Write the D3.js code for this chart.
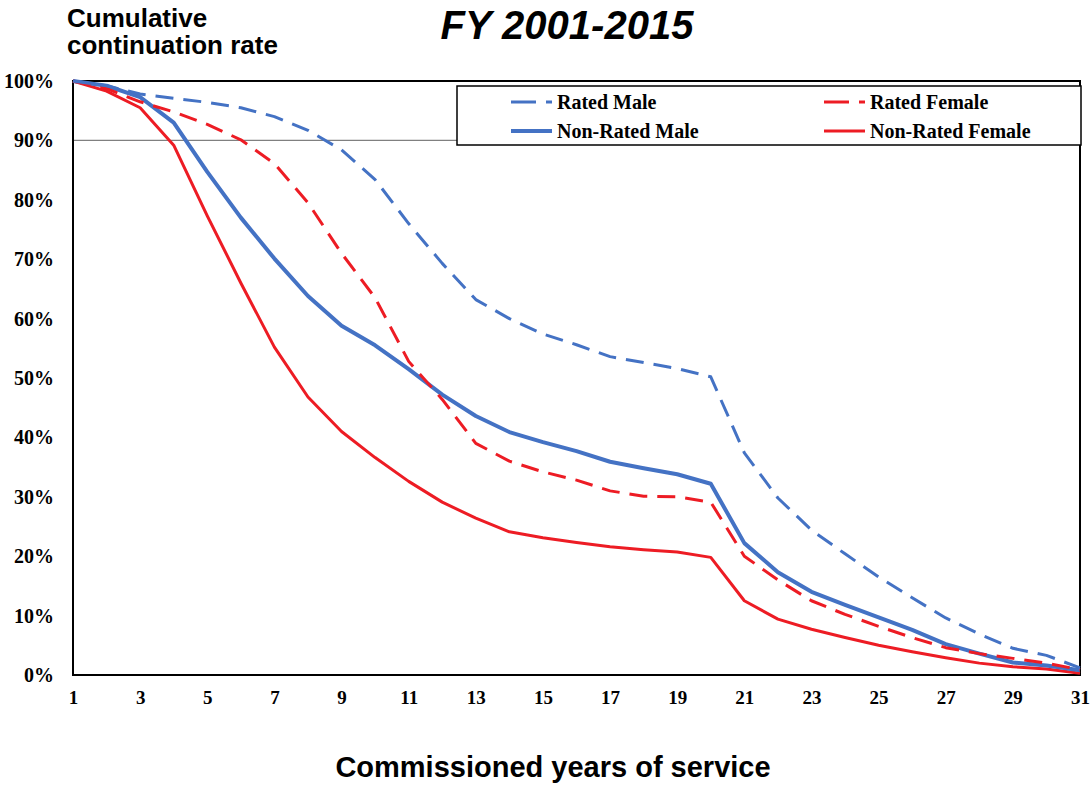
<!DOCTYPE html>
<html><head><meta charset="utf-8">
<script src="https://cdn.jsdelivr.net/npm/d3@7"></script>
<style>body{margin:0;background:#fff}</style>
</head><body><svg id="c" width="1091" height="785"></svg>
<script>
const years = d3.range(1, 32);
const ratedMale = [100,99.2,97.8,97.1,96.4,95.5,94,91.7,88.4,83.4,76,69.3,63.2,60,57.4,55.6,53.6,52.6,51.6,50.2,37.4,29.8,24.4,20.4,16.5,13,9.6,6.9,4.5,3.3,1.2];
const ratedFemale = [100,98.7,96.5,94.8,92.7,90.1,86.1,79.5,71,63.5,52.8,46.4,39,36,34.2,32.8,31,30.1,30,29.1,20,16,12.5,10.2,8.2,6.3,4.6,3.6,2.8,2,0.9];
const nonRatedMale = [100,99.2,97.3,93,84.7,77,70.1,63.8,58.8,55.5,51.5,47.2,43.6,40.9,39.2,37.7,35.9,34.8,33.8,32.2,22.2,17.3,14,11.8,9.7,7.6,5.2,3.6,2.1,1.6,0.8];
const nonRatedFemale = [100,98.3,95.5,89.2,77.3,66,55.2,46.8,41,36.6,32.6,29.1,26.4,24.1,23.1,22.3,21.6,21.1,20.7,19.8,12.5,9.4,7.7,6.3,5,3.9,2.9,2,1.4,1,0.3];
const yTicks = [0,10,20,30,40,50,60,70,80,90,100];
const xTicks = d3.range(1, 32, 2);
const seriesNames = ["Rated Male","Rated Female","Non-Rated Male","Non-Rated Female"];

const series = [
  {name: seriesNames[0], values: ratedMale, color: "#4472C4", width: 3, dash: "18,10"},
  {name: seriesNames[1], values: ratedFemale, color: "#ED1C24", width: 3, dash: "18,10"},
  {name: seriesNames[2], values: nonRatedMale, color: "#4472C4", width: 4, dash: null},
  {name: seriesNames[3], values: nonRatedFemale, color: "#ED1C24", width: 3, dash: null}
];

const svg = d3.select("#c");
const L = 73, R = 1080, T = 81, B = 675;
const x = d3.scaleLinear().domain([1, 31]).range([L, R]);
const y = d3.scaleLinear().domain([0, 100]).range([B, T]);
const serif = "Liberation Serif, Times New Roman, serif";
const sans = "Liberation Sans, Arial, sans-serif";

// gridline at 90%
svg.append("line").attr("x1", L).attr("x2", R).attr("y1", y(90)).attr("y2", y(90))
  .attr("stroke", "#808080").attr("stroke-width", 1.2);

const yAxis = svg.append("g").attr("transform", `translate(${L},0)`)
  .call(d3.axisLeft(y).tickValues(yTicks).tickFormat(d => d + "%").tickSize(0).tickPadding(19));
yAxis.select(".domain").remove();
yAxis.selectAll("text").attr("font-family", serif)
  .attr("font-weight", "bold").attr("font-size", 20).attr("fill", "#000");

const xAxis = svg.append("g").attr("transform", `translate(0,${B})`)
  .call(d3.axisBottom(x).tickValues(xTicks).tickFormat(d3.format("d")).tickSize(0).tickPadding(16));
xAxis.select(".domain").remove();
xAxis.selectAll("text").attr("font-family", serif)
  .attr("font-weight", "bold").attr("font-size", 19).attr("fill", "#000");

svg.append("rect").attr("x", L).attr("y", T).attr("width", R - L).attr("height", B - T)
  .attr("fill", "none").attr("stroke", "#000").attr("stroke-width", 2);

const line = d3.line().x((d, i) => x(years[i])).y(d => y(d));
[3, 2, 1, 0].forEach(k => {
  const s = series[k];
  svg.append("path").attr("d", line(s.values)).attr("fill", "none")
    .attr("stroke", s.color).attr("stroke-width", s.width)
    .attr("stroke-dasharray", s.dash).attr("stroke-linejoin", "round");
});

// legend
svg.append("rect").attr("x", 457).attr("y", 86).attr("width", 624).attr("height", 59)
  .attr("fill", "#fff").attr("stroke", "#000").attr("stroke-width", 1.5);
const legPos = [[511, 102], [824, 102], [511, 131], [824, 131]];
series.forEach((s, i) => {
  const [lx, ly] = legPos[i];
  svg.append("line").attr("x1", lx).attr("x2", lx + 41).attr("y1", ly).attr("y2", ly)
    .attr("stroke", s.color).attr("stroke-width", s.width)
    .attr("stroke-dasharray", s.dash ? "25,10" : null);
  svg.append("text").attr("x", lx + 46).attr("y", ly + 7).text(s.name)
    .attr("font-family", serif)
    .attr("font-weight", "bold").attr("font-size", 20).attr("fill", "#000");
});

// titles
svg.append("text").attr("x", 567).attr("y", 39).attr("text-anchor", "middle")
  .attr("font-family", sans).attr("font-weight", "bold")
  .attr("font-style", "italic").attr("font-size", 40).text("FY 2001-2015");
svg.append("text").attr("x", 67).attr("y", 27)
  .attr("font-family", sans).attr("font-weight", "bold")
  .attr("font-size", 26).text("Cumulative");
svg.append("text").attr("x", 67).attr("y", 54)
  .attr("font-family", sans).attr("font-weight", "bold")
  .attr("font-size", 26).text("continuation rate");
svg.append("text").attr("x", 553).attr("y", 777).attr("text-anchor", "middle")
  .attr("font-family", sans).attr("font-weight", "bold")
  .attr("font-size", 29).text("Commissioned years of service");
</script></body></html>
